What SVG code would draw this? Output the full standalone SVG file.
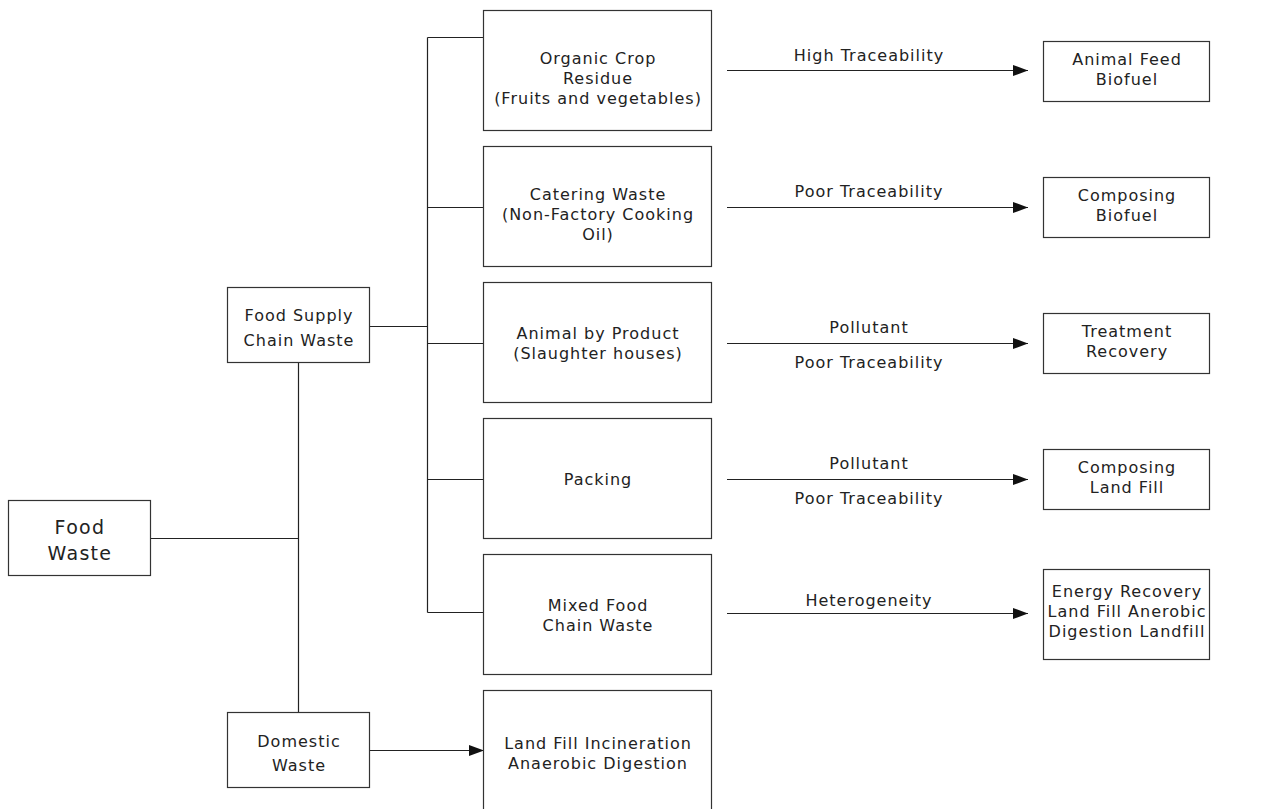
<svg xmlns="http://www.w3.org/2000/svg" width="1269" height="809" viewBox="0 0 1269 809">
<style>
.box{fill:#fff;stroke:#333;stroke-width:1.2}
.ln{fill:none;stroke:#222;stroke-width:1.2}
text{font-family:"DejaVu Sans","Liberation Sans",sans-serif;font-size:16px;letter-spacing:1px;fill:#222;text-anchor:middle}
.big{font-size:19px;letter-spacing:1.3px}
</style>
<defs>
<marker id="ah" markerWidth="15" markerHeight="11" refX="15" refY="5.5" orient="auto" markerUnits="userSpaceOnUse">
<path d="M0,0 L15,5.5 L0,11 Z" fill="#111"/>
</marker>
</defs>
<rect width="1269" height="809" fill="#fff"/>
<g id="connectors">
<path class="ln" d="M150.5,538.5 H298.5 M298.5,363 V712"/>
<path class="ln" d="M369,326.5 H427.5 M427.5,37.5 V612.5 M427.5,37.5 H483 M427.5,207.5 H483 M427.5,343.5 H483 M427.5,479.5 H483 M427.5,612.5 H483"/>
<path class="ln" d="M727,70.5 H1028" marker-end="url(#ah)"/>
<path class="ln" d="M727,207.5 H1028" marker-end="url(#ah)"/>
<path class="ln" d="M727,343.5 H1028" marker-end="url(#ah)"/>
<path class="ln" d="M727,479.5 H1028" marker-end="url(#ah)"/>
<path class="ln" d="M727,613.5 H1028" marker-end="url(#ah)"/>
<path class="ln" d="M369,750.5 H484" marker-end="url(#ah)"/>
<text x="869" y="61">High Traceability</text>
<text x="869" y="197">Poor Traceability</text>
<text x="869" y="333">Pollutant</text>
<text x="869" y="368">Poor Traceability</text>
<text x="869" y="469">Pollutant</text>
<text x="869" y="504">Poor Traceability</text>
<text x="869" y="606">Heterogeneity</text>
</g>
<g id="food-waste"><rect class="box" x="8.5" y="500.5" width="142" height="75"/><text class="big" x="80" y="534">Food</text><text class="big" x="80" y="560">Waste</text></g>
<g id="food-supply"><rect class="box" x="227.5" y="287.5" width="142" height="75"/><text x="299" y="321">Food Supply</text><text x="299" y="346">Chain Waste</text></g>
<g id="domestic"><rect class="box" x="227.5" y="712.5" width="142" height="75"/><text x="299" y="747">Domestic</text><text x="299" y="771">Waste</text></g>
<g id="organic"><rect class="box" x="483.5" y="10.5" width="228" height="120"/><text x="598" y="64">Organic Crop</text><text x="598" y="84">Residue</text><text x="598" y="104">(Fruits and vegetables)</text></g>
<g id="catering"><rect class="box" x="483.5" y="146.5" width="228" height="120"/><text x="598" y="200">Catering Waste</text><text x="598" y="220">(Non-Factory Cooking</text><text x="598" y="240">Oil)</text></g>
<g id="animal"><rect class="box" x="483.5" y="282.5" width="228" height="120"/><text x="598" y="339">Animal by Product</text><text x="598" y="359">(Slaughter houses)</text></g>
<g id="packing"><rect class="box" x="483.5" y="418.5" width="228" height="120"/><text x="598" y="485">Packing</text></g>
<g id="mixed"><rect class="box" x="483.5" y="554.5" width="228" height="120"/><text x="598" y="611">Mixed Food</text><text x="598" y="631">Chain Waste</text></g>
<g id="landfill-inc"><rect class="box" x="483.5" y="690.5" width="228" height="130"/><text x="598" y="749">Land Fill Incineration</text><text x="598" y="769">Anaerobic Digestion</text></g>
<g id="animal-feed"><rect class="box" x="1043.5" y="41.5" width="166" height="60"/><text x="1127" y="65">Animal Feed</text><text x="1127" y="85">Biofuel</text></g>
<g id="composing-biofuel"><rect class="box" x="1043.5" y="177.5" width="166" height="60"/><text x="1127" y="201">Composing</text><text x="1127" y="221">Biofuel</text></g>
<g id="treatment"><rect class="box" x="1043.5" y="313.5" width="166" height="60"/><text x="1127" y="337">Treatment</text><text x="1127" y="357">Recovery</text></g>
<g id="composing-landfill"><rect class="box" x="1043.5" y="449.5" width="166" height="60"/><text x="1127" y="473">Composing</text><text x="1127" y="493">Land Fill</text></g>
<g id="energy"><rect class="box" x="1043.5" y="569.5" width="166" height="90"/><text x="1127" y="597">Energy Recovery</text><text x="1127" y="617">Land Fill Anerobic</text><text x="1127" y="637">Digestion Landfill</text></g>
</svg>
